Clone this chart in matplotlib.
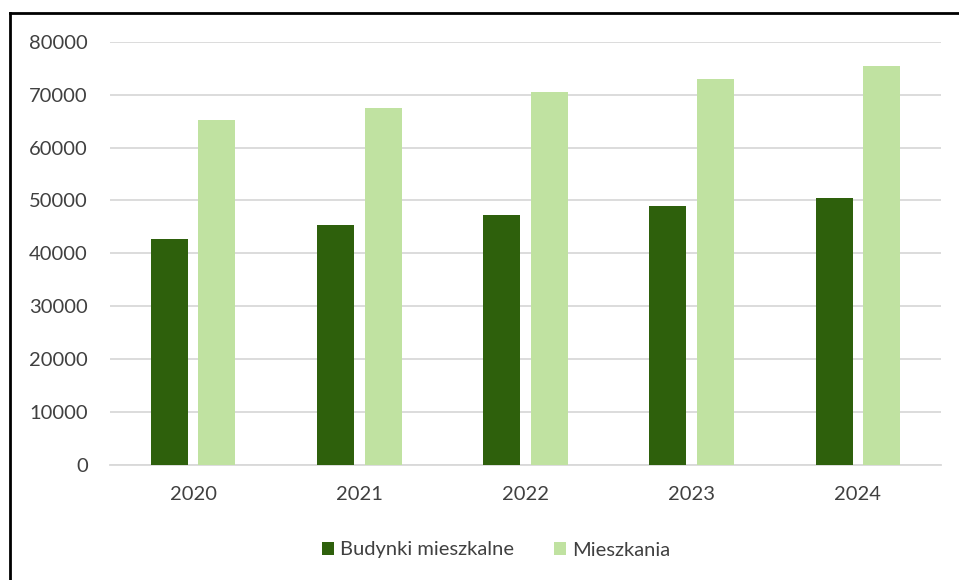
import matplotlib
matplotlib.use("Agg")
import matplotlib.pyplot as plt
from matplotlib.lines import Line2D
import numpy as np

years = ["2020", "2021", "2022", "2023", "2024"]
budynki = [42650, 45300, 47250, 48950, 50400]
mieszkania = [65250, 67550, 70500, 72900, 75350]
series_names = ["Budynki mieszkalne", "Mieszkania"]
colors = ["#2e600c", "#c0e2a1"]

plt.rcParams['font.family'] = ['Lato', 'DejaVu Sans']

W, H = 959, 580
fig = plt.figure(figsize=(W / 100, H / 100), dpi=100)
ax = fig.add_axes([110 / W, 1 - 465 / H, (941 - 110) / W, (465 - 41.7) / H])

x = np.arange(len(years))
bw = 0.223
off = 0.143
ax.bar(x - off, budynki, bw, color=colors[0], label=series_names[0], zorder=3)
ax.bar(x + off, mieszkania, bw, color=colors[1], label=series_names[1], zorder=3)

ax.set_xlim(-0.5, len(years) - 0.5)
ax.set_ylim(0, 80000)
ax.set_yticks(np.arange(0, 80001, 10000))
ax.set_yticklabels([str(v) for v in range(0, 80001, 10000)])
ax.set_xticks(x)
ax.set_xticklabels(years)
ax.yaxis.grid(True, color="#d9d9d9", linewidth=1.3, zorder=0)
ax.set_axisbelow(True)
for s in ["top", "right", "left"]:
    ax.spines[s].set_visible(False)
ax.spines["bottom"].set_color("#d9d9d9")
ax.spines["bottom"].set_linewidth(1.3)
ax.tick_params(axis="both", length=0, labelsize=14.5, colors="#404040")
ax.tick_params(axis="y", pad=16)
ax.tick_params(axis="x", pad=15)

leg = fig.legend(loc="center", bbox_to_anchor=(496 / W, 1 - 550 / H), ncol=2,
                 frameon=False, fontsize=14.5, handlelength=0.6, handleheight=0.6,
                 columnspacing=2.0, handletextpad=0.3)
for t in leg.get_texts():
    t.set_color("#404040")

# outer border (left and top visible)
fig.add_artist(Line2D([9.5 / W, 9.5 / W], [0, 1 - 13 / H], transform=fig.transFigure,
                      color="black", linewidth=2))
fig.add_artist(Line2D([9.5 / W, 1], [1 - 13 / H, 1 - 13 / H], transform=fig.transFigure,
                      color="black", linewidth=2))

fig.savefig("out.png", dpi=100)
